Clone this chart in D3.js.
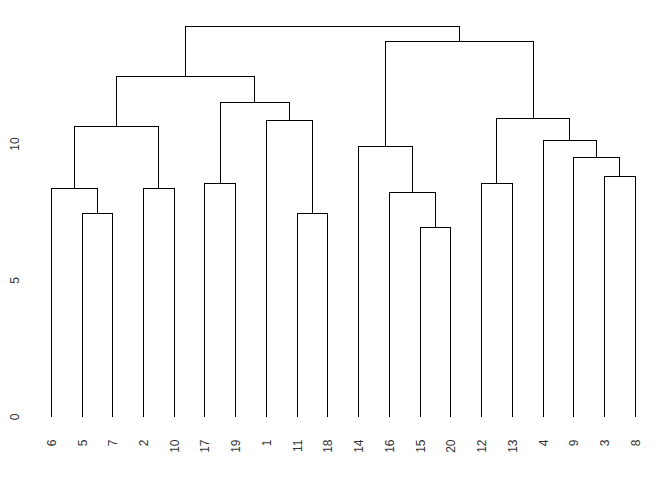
<!DOCTYPE html>
<html>
<head>
<meta charset="utf-8">
<script src="https://cdn.jsdelivr.net/npm/d3@7"></script>
<style>
  html, body { margin: 0; padding: 0; background: #fff; }
  svg { display: block; }
  text { font-family: "Liberation Sans", Arial, sans-serif; font-size: 12px; fill: #333; }
</style>
</head>
<body>
<svg id="chart" width="672" height="480"></svg>
<script>
// Leaf labels in display order
const leafOrder = ["6","5","7","2","10","17","19","1","11","18","14","16","15","20","12","13","4","9","3","8"];
// R-style merge list: negative = leaf label, positive = earlier merge step (1-based)
const mergeA = ["-15","-5","-11","-16","-6","-2","-17","-12","-3","-9","-14","-4","5","-1","8","7","13","11","17"];
const mergeB = ["-20","-7","-18","1","2","-10","-19","-13","-8","9","4","10","6","3","12","14","16","15","18"];
const mergeHeight = [6.95,7.46,7.46,8.23,8.38,8.38,8.56,8.56,8.82,9.51,9.92,10.14,10.65,10.87,10.94,11.53,12.48,13.76,14.31];
const yTicks = [0, 5, 10];

const svg = d3.select("#chart");

const x = d3.scalePoint().domain(leafOrder).range([51.3, 635.3]);
const y = d3.scaleLinear().domain([0, 10]).range([417, 144]);

// Build nested tree from merges
const steps = [];
function ref(s) {
  const v = +s;
  if (v < 0) return { name: String(-v), height: 0 };
  return steps[v - 1];
}
for (let i = 0; i < mergeA.length; i++) {
  steps.push({ name: "m" + (i + 1), height: mergeHeight[i], children: [ref(mergeA[i]), ref(mergeB[i])] });
}
const root = d3.hierarchy(steps[steps.length - 1]);
root.eachAfter(n => {
  if (!n.children) n.px = x(n.data.name);
  else n.px = d3.mean(n.children, c => c.px);
  n.py = y(n.data.height);
});

const g = svg.append("g")
  .attr("fill", "none")
  .attr("stroke", "#000")
  .attr("stroke-width", 1)
  .attr("shape-rendering", "crispEdges");

root.descendants().filter(n => n.children).forEach(n => {
  const [a, b] = n.children;
  g.append("path")
    .attr("d", `M${a.px},${a.py}V${n.py}H${b.px}V${b.py}`);
});

// Leaf labels
svg.append("g").selectAll("text")
  .data(root.leaves())
  .join("text")
  .attr("transform", d => `translate(${d.px + 4.5},439.5) rotate(-90)`)
  .attr("text-anchor", "end")
  .text(d => d.data.name);

// Y axis labels (no axis line or ticks)
svg.append("g").selectAll("text")
  .data(yTicks)
  .join("text")
  .attr("transform", d => `translate(19,${y(d)}) rotate(-90)`)
  .attr("text-anchor", "middle")
  .text(d => d);
</script>
</body>
</html>
